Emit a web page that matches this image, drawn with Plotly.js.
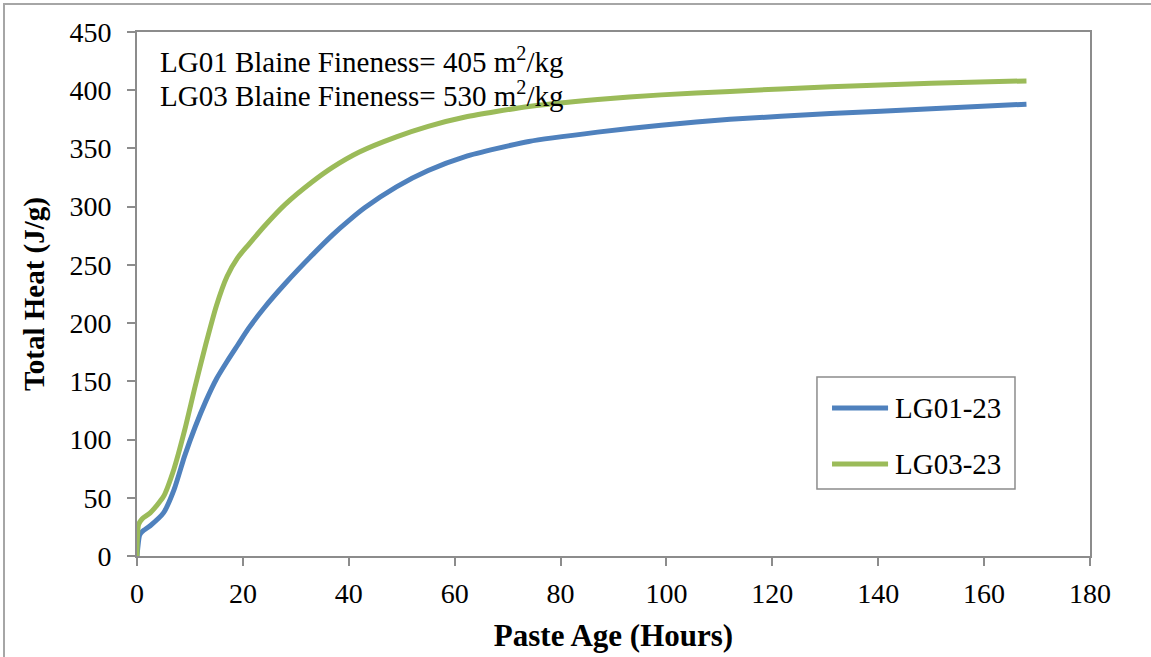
<!DOCTYPE html>
<html>
<head>
<meta charset="utf-8">
<script src="https://cdn.plot.ly/plotly-3.0.1.min.js"></script>
<style>
  html, body { margin: 0; padding: 0; background: #ffffff; }
  #chart { width: 1151px; height: 657px; }
  #frame { position: absolute; left: 3px; top: 3px; width: 1160px; height: 670px;
           border-top: 2px solid #a6a6a6; border-left: 2px solid #a6a6a6; pointer-events: none; }
</style>
</head>
<body>
<div id="chart"></div>
<div id="frame"></div>
<script>
// Paste age (hours) and total heat (J/g)
const hoursLG01 = [0, 0.5, 1, 2.5, 5, 7, 9, 11, 13, 15, 17, 19, 21, 24, 28, 33, 37, 40, 43, 49, 55, 62, 74, 87, 99, 112, 131, 150, 168];
const heatLG01  = [0, 18, 21, 26, 37, 57, 86, 111, 133, 152, 167, 181, 195, 213, 234, 258, 276, 288, 299, 317, 331, 343, 356, 364, 370, 375, 380, 384, 388];

const hoursLG03 = [0, 0.3, 1, 2.5, 5, 7, 9, 11, 13, 15, 17, 19, 21, 24, 28, 33, 37, 42, 49, 55, 62, 74, 87, 99, 112, 131, 150, 168];
const heatLG03  = [0, 27, 32, 37, 51, 75, 108, 146, 182, 215, 240, 256, 267, 283, 302, 321, 334, 347, 360, 369, 377, 386, 392, 396, 399, 403, 406, 408];

const seriesNames = ['LG01-23', 'LG03-23'];
const seriesColors = ['#4F81BD', '#9BBB59'];
const noteLines = ['LG01 Blaine Fineness= 405 m<sup>2</sup>/kg', 'LG03 Blaine Fineness= 530 m<sup>2</sup>/kg'];

const serif = '"Liberation Serif", "Times New Roman", serif';

const traces = [
  { x: hoursLG01, y: heatLG01, name: seriesNames[0], mode: 'lines', showlegend: false,
    line: { color: seriesColors[0], width: 5, shape: 'spline', smoothing: 0.6 } },
  { x: hoursLG03, y: heatLG03, name: seriesNames[1], mode: 'lines', showlegend: false,
    line: { color: seriesColors[1], width: 5, shape: 'spline', smoothing: 0.6 } }
];

const axisCommon = {
  showgrid: false, zeroline: false, showline: true, linecolor: '#8c8c8c', linewidth: 2,
  ticks: 'outside', ticklen: 8, tickwidth: 2, tickcolor: '#8c8c8c',
  tickfont: { family: serif, size: 28, color: '#000' }
};

// Manual legend box (paper coordinates)
const lg = { x0: 0.7135, x1: 0.9213, y0: 0.1279, y1: 0.3416, lineX0: 0.7293, lineX1: 0.7881, textX: 0.7933, rows: [0.2824, 0.1756] };

const shapes = [
  { type: 'rect', xref: 'paper', yref: 'paper', x0: lg.x0, x1: lg.x1, y0: lg.y0, y1: lg.y1,
    line: { color: '#8c8c8c', width: 1.5 }, fillcolor: '#ffffff', layer: 'above' }
];
const annotations = [
  { xref: 'paper', yref: 'paper', x: 0.022, y: 0.947, xanchor: 'left', yanchor: 'middle',
    text: noteLines[0], showarrow: false, font: { family: serif, size: 29, color: '#000' } },
  { xref: 'paper', yref: 'paper', x: 0.022, y: 0.882, xanchor: 'left', yanchor: 'middle',
    text: noteLines[1], showarrow: false, font: { family: serif, size: 29, color: '#000' } }
];
seriesNames.forEach((nm, i) => {
  shapes.push({ type: 'line', xref: 'paper', yref: 'paper', x0: lg.lineX0, x1: lg.lineX1,
    y0: lg.rows[i], y1: lg.rows[i], line: { color: seriesColors[i], width: 5 }, layer: 'above' });
  annotations.push({ xref: 'paper', yref: 'paper', x: lg.textX, y: lg.rows[i], xanchor: 'left', yanchor: 'middle',
    text: nm, showarrow: false, font: { family: serif, size: 29, color: '#000' } });
});

const layout = {
  width: 1151, height: 657,
  margin: { l: 137, r: 61, t: 32, b: 101 },
  paper_bgcolor: '#fff', plot_bgcolor: '#fff',
  font: { family: serif, color: '#000' },
  showlegend: false,
  xaxis: Object.assign({}, axisCommon, {
    range: [0, 180], dtick: 20, mirror: true, ticklabelstandoff: 3,
    title: { text: '<b>Paste Age (Hours)</b>', font: { family: serif, size: 31, color: '#000' }, standoff: 17 }
  }),
  yaxis: Object.assign({}, axisCommon, {
    range: [0, 450], dtick: 50, mirror: true, ticklabelstandoff: 10,
    title: { text: '<b>Total Heat (J/g)</b>', font: { family: serif, size: 29, color: '#000' }, standoff: 16 }
  }),
  shapes: shapes,
  annotations: annotations
};

Plotly.newPlot('chart', traces, layout, { displayModeBar: false, staticPlot: true });
</script>
</body>
</html>
